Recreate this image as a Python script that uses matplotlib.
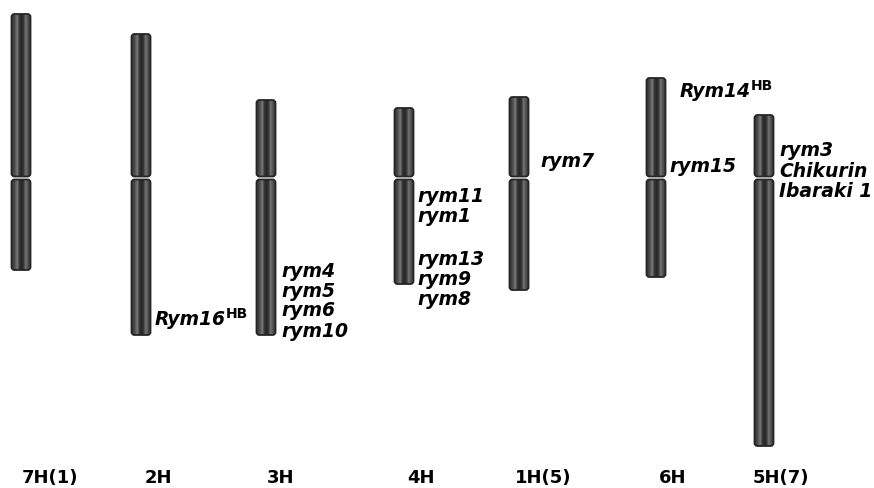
import matplotlib.pyplot as plt
import numpy as np
from matplotlib.patches import FancyBboxPatch

# chromosomes (pixel units, y measured from the top)
chrom_names = ['7H(1)', '2H', '3H', '4H', '1H(5)', '6H', '5H(7)']
chrom_x = [21, 141, 266, 404, 519, 656, 764]
chrom_top = [14, 34, 100, 108, 97, 78, 115]
chrom_cen = [178, 178, 178, 178, 178, 178, 178]
chrom_bottom = [270, 335, 335, 284, 290, 277, 446]
name_x = [50, 158, 281, 421, 543, 673, 781]

# resistance genes
gene_names = ['Rym16', 'rym4', 'rym5', 'rym6', 'rym10',
              'rym11', 'rym1', 'rym13', 'rym9', 'rym8',
              'rym7', 'Rym14', 'rym15', 'rym3', 'Chikurin', 'Ibaraki 1']
gene_sup = ['HB', '', '', '', '', '', '', '', '', '', '', 'HB', '', '', '', '']
gene_x = [155, 281, 281, 281, 281, 417, 417, 417, 417, 417, 540, 680, 669, 779, 779, 779]
gene_y = [325, 277, 297, 316, 337, 202, 222, 265, 285, 305, 167, 97, 172, 156, 177, 197]

plt.rcParams['font.family'] = ['DejaVu Sans']

fig = plt.figure(figsize=(8.74, 4.88), dpi=100)
ax = fig.add_axes([0, 0, 1, 1])

w = 19
# shading across the width of a chromosome (cylinder look)
pos = [0.0, 0.12, 0.28, 0.38, 0.5, 0.62, 0.72, 0.88, 1.0]
val = [0.22, 0.28, 0.48, 0.22, 0.15, 0.22, 0.46, 0.28, 0.22]
prof = np.interp(np.linspace(0, 1, 60), pos, val)
grad = np.tile(prof, (2, 1))


def arm(xc, y0, y1):
    p = FancyBboxPatch((xc - w / 2, y0), w, y1 - y0,
                       boxstyle='round,pad=0,rounding_size=3',
                       facecolor='none', edgecolor='#262626', lw=1.3, zorder=3)
    ax.add_patch(p)
    im = ax.imshow(grad, cmap='gray', vmin=0, vmax=1, aspect='auto',
                   extent=(xc - w / 2, xc + w / 2, y1, y0), zorder=2,
                   interpolation='bilinear')
    im.set_clip_path(p)


for i in range(len(chrom_names)):
    arm(chrom_x[i], chrom_top[i], chrom_cen[i] - 1.5)
    arm(chrom_x[i], chrom_cen[i] + 1.5, chrom_bottom[i])
    ax.text(name_x[i], 483, chrom_names[i], ha='center', va='baseline',
            fontsize=13, fontweight='bold')
ax.set_xlim(0, 874)
ax.set_ylim(488, 0)
ax.axis('off')

for name, sup, x, y in zip(gene_names, gene_sup, gene_x, gene_y):
    t = ax.text(x, y, name, ha='left', va='baseline', fontsize=13.5,
                fontweight='bold', fontstyle='italic')
    if sup:
        ax.annotate(sup, xy=(1.0, 0.5), xycoords=t, xytext=(0, 1),
                    textcoords='offset points', ha='left', va='baseline',
                    fontsize=10, fontweight='bold')

fig.savefig('out.png', dpi=100)
